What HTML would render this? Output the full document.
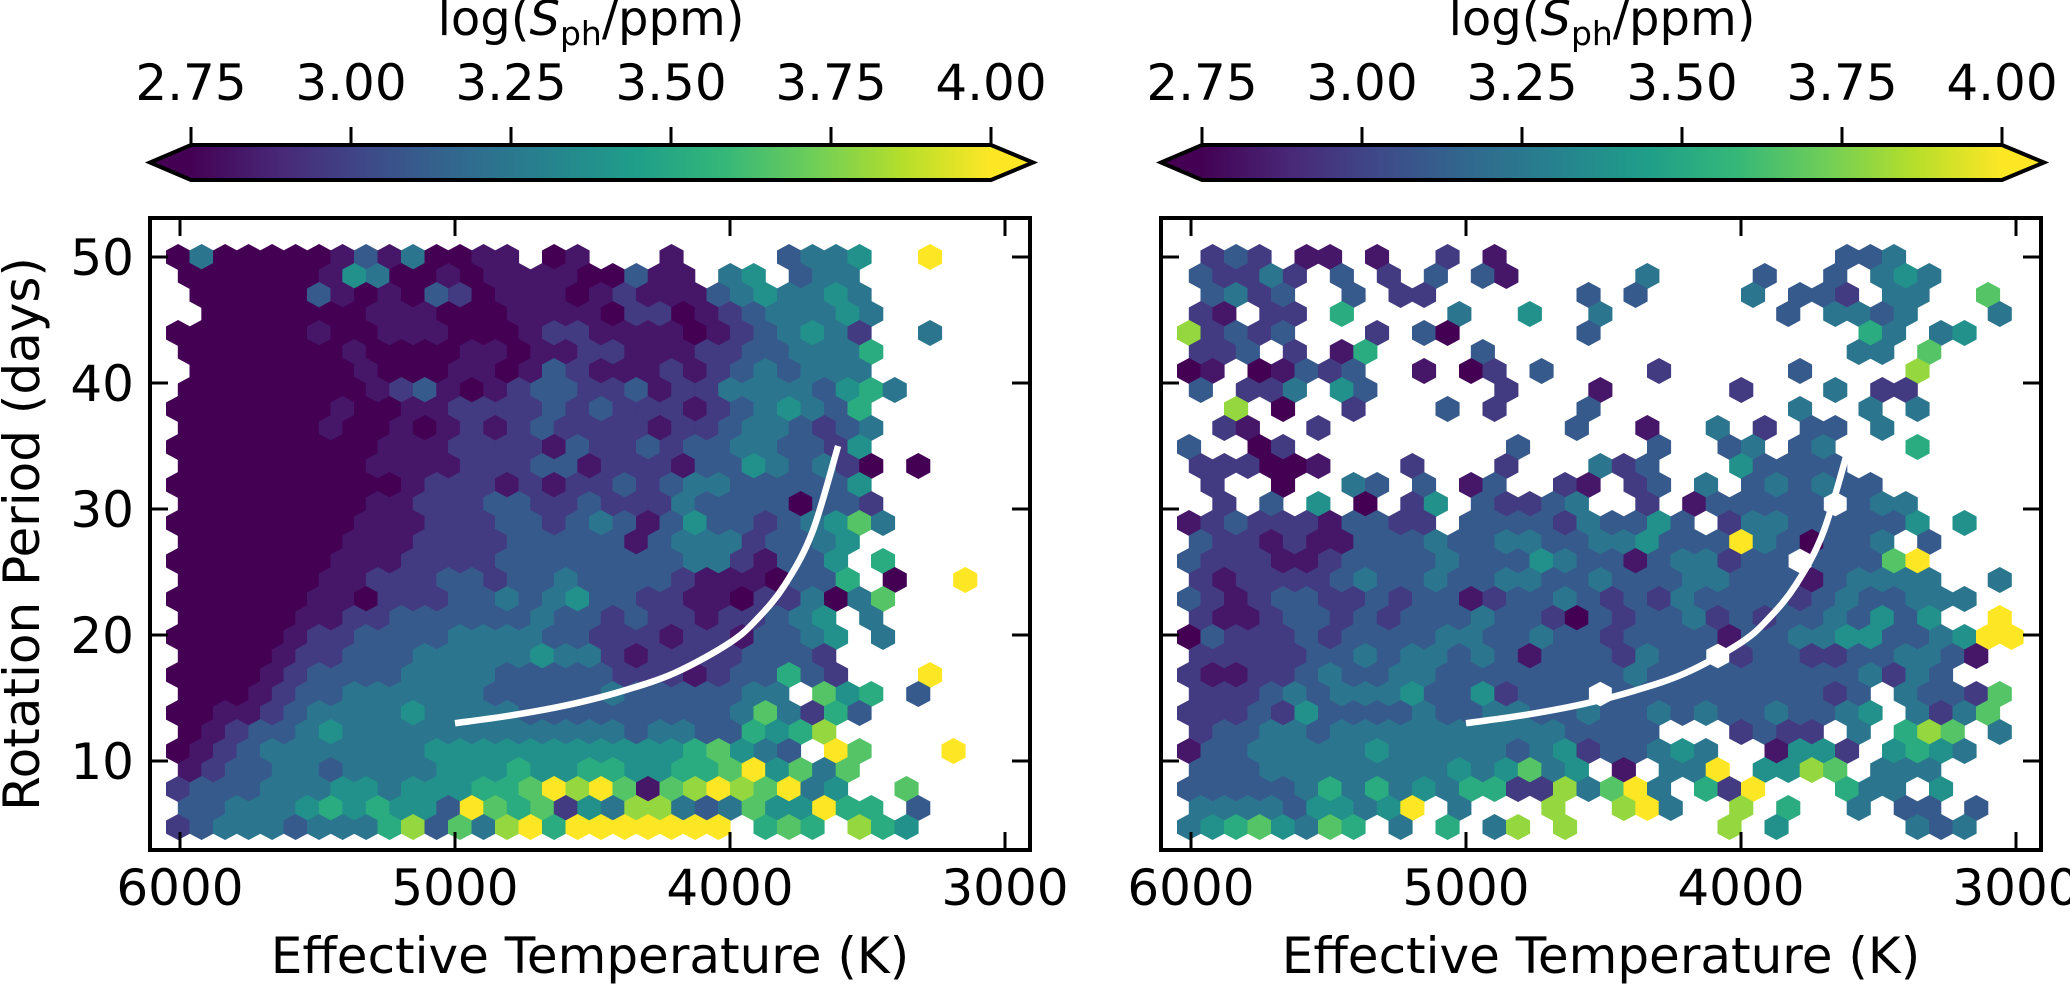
<!DOCTYPE html>
<html><head><meta charset="utf-8"><style>
html,body{margin:0;padding:0;background:#fff;}
svg{display:block;font-family:"DejaVu Sans","Liberation Sans",sans-serif;}
</style></head><body>
<svg id="fig" width="2070" height="985" viewBox="0 0 2070 985" xmlns="http://www.w3.org/2000/svg">
<defs>
<linearGradient id="vir" x1="0" x2="1" y1="0" y2="0">
<stop offset="0" stop-color="#440154"/><stop offset="0.111" stop-color="#482878"/><stop offset="0.222" stop-color="#3e4a89"/><stop offset="0.333" stop-color="#31688e"/><stop offset="0.444" stop-color="#26828e"/><stop offset="0.556" stop-color="#1f9e89"/><stop offset="0.667" stop-color="#35b779"/><stop offset="0.778" stop-color="#6ece58"/><stop offset="0.889" stop-color="#b5de2b"/><stop offset="1" stop-color="#fde725"/>
</linearGradient>
</defs>
<g id="layer"></g>
</svg>
<script>
// ---- data ----
const colorbarTicks = [2.75, 3.00, 3.25, 3.50, 3.75, 4.00];
const colorbarTickLabels = ["2.75","3.00","3.25","3.50","3.75","4.00"];
const xTicks = [6000, 5000, 4000, 3000];
const xTickLabels = ["6000","5000","4000","3000"];
const yTicks = [50, 40, 30, 20, 10];
const yTickLabels = ["50","40","30","20","10"];
const gridT0 = 6007, gridDT = 85.45, gridP0 = 50.0, gridDP = 1.508;
const levelMin = 2.75, levelStep = 1.25/9, levelShift = 0.45;
const curveT = [5000, 4800, 4600, 4400, 4200, 4000, 3900, 3800, 3700, 3607];
const curveP = [13.0, 13.6, 14.4, 15.5, 17.0, 19.4, 21.3, 24.0, 28.2, 35.0];
const leftRows = [
"0400000131"+"40011.01.."+".1....3445"+"..9...",
"0000001540"+"0101111003"+"11.45.344."+"......",
".000003101"+"0320111012"+"1113454454"+"......",
".000000011"+"1000111102"+"2012344454"+"......",
"0000001001"+"1100012211"+"1101234542"+"..4...",
"0000000100"+"0011011221"+"1122334446"+"......",
".000000010"+"0011013211"+"1212343444"+"......",
"0000000012"+"3101233223"+"1224444356"+"4.....",
"0000000100"+"1122223232"+"2212345436"+"......",
"0000001001"+"0121232222"+"1223443234"+"......",
"0000000001"+"1122221322"+"3233443325"+"......",
"0000000011"+"1122233122"+"2133543420"+".0....",
"0000000000"+"1222121223"+"2344333335"+"......",
"0000000011"+"2223322322"+"2433330332"+"......",
"0000000011"+"1222332343"+"1353323457"+"4.....",
"0000000111"+"2222333331"+"344423345."+"......",
"0000000111"+"2222333333"+"334421335."+"6.....",
"0000001122"+"2332334333"+"321110336."+"0..9..",
"0000001102"+"2233434533"+"2211022404"+"7.....",
"0000011223"+"3333343323"+"22122345.4"+"......",
"0000012233"+"3344443322"+"212213345."+"4.....",
"0000122333"+"4444454421"+"22223332.."+"......",
"0000123333"+"4444333332"+"221233632."+"..9...",
"0001233444"+"4443333343"+"333344.756"+".3....",
"0011234444"+"5444433333"+"3333474263"+"......",
"0123345444"+"4444444443"+"44336568.."+"......",
"0123444444"+"4555555555"+"5567543.97"+"...9..",
"1233443444"+"4555655665"+"566795747."+"......",
"2333444554"+"5556679897"+"178987945."+".7....",
"3344456565"+"5397672548"+"8434755966"+".3....",
"2344434446"+"8374896999"+"9999.676.8"+"65...."
];
const rightRows = [
".232.11.1."+".2.1......"+"........33"+"4.....",
"32242.3.2."+"3.31.....4"+"....3..3.4"+"54....",
".3423..3.2"+"2......3.3"+"....4.332."+"44..7.",
"21.22.6..."+".4..5..4.."+".....3.443"+"4...4.",
"82323...2."+"30.....3.."+".........6"+"4.45..",
"223.2.16.."+"..3......."+"........44"+".7....",
"01.01323.."+"1.02.3...."+"2.....3..."+".8....",
"3.224.53.."+"...2...1.."+"...2...4.2"+"2.....",
"..8.0..2.."+".3.2...3.."+"......4..4"+".4....",
".21..2...."+"......3..1"+"..4.2.33.4"+"......",
"3..02....."+"....3....."+"3..34.34.."+".6....",
"222001...2"+"...2...423"+"...53333.."+"......",
".2..0..43."+"3.13..21.2"+"3.4.343433"+"......",
".2.3.5.0.2"+"5.32234..2"+".133333.34"+"4.....",
"1232221332"+"2.33332433"+"53.2443333"+"35.5..",
"3221211333"+"4334433445"+"3339430334"+".3....",
"3222112333"+"3433354331"+"344233.333"+"79....",
"2122223433"+"4334433433"+"3443331344"+"44..4.",
"3212332232"+"3312334323"+"2433332343"+"3444..",
"2112332323"+"3343320323"+"3423233435"+"35..9.",
"0322232333"+"3443343323"+"3331334455"+"334599",
"2222233434"+"4343133324"+"33.2332233"+"4431..",
"2112234334"+"4333333334"+"3333333334"+"243...",
"2223434445"+"3352333.33"+"333333323."+"43327.",
"2223253333"+"4334433433"+"4343343345"+".4247.",
"2334434444"+"4444443333"+"...2322.4."+"687.4.",
"1334444454"+"4444345233"+"454..1552."+"5654..",
"3334444444"+"4545745.1."+"449.5587.4"+"44....",
"3333346464"+"5466228479"+"4.629...64"+"4.5...",
"4444355459"+".4...8..89"+"4..8.6..4."+"33.3..",
"45675476.4"+".6.48.8..."+"...8.5...."+".434.."
];
// ---- layout ----
const NS = "http://www.w3.org/2000/svg";
const layer = document.getElementById('layer');
const panels = [{off:0, rows:leftRows, name:'left'}, {off:1011, rows:rightRows, name:'right'}];
const AX = {l:150, r:1030, t:218, b:850};
function xPix(T, off){ return 180 + (6000 - T) * 0.275 + off; }
function yPix(P){ return 257 + (50 - P) * 12.6; }
function cbX(v, off){ return 191 + off + (v - 2.75) / 1.25 * 800; }
const vir = ["#440154","#482878","#3e4a89","#31688e","#26828e","#1f9e89","#35b779","#6ece58","#b5de2b","#fde725"];
function hexToRgb(h){ return [parseInt(h.substr(1,2),16), parseInt(h.substr(3,2),16), parseInt(h.substr(5,2),16)]; }
function viridis(v){
  let t = (v - 2.75) / 1.25; t = Math.max(0, Math.min(1, t));
  const f = t * 9, i = Math.min(8, Math.floor(f)), u = f - i;
  const a = hexToRgb(vir[i]), b = hexToRgb(vir[i+1]);
  return 'rgb(' + a.map((c,k)=>Math.round(c + (b[k]-c)*u)).join(',') + ')';
}
function levelValue(d){
  if (d === 0) return levelMin;
  if (d === 9) return levelMin + 9 * levelStep;
  return levelMin + (d - levelShift) * levelStep;
}
function mk(tag, attrs, parent){
  const e = document.createElementNS(NS, tag);
  for (const k in attrs) e.setAttribute(k, attrs[k]);
  (parent || layer).appendChild(e);
  return e;
}
function txt(s, attrs, parent){ const e = mk('text', attrs, parent); e.textContent = s; return e; }
function smoothPath(pts){
  let d = 'M ' + pts[0][0].toFixed(1) + ' ' + pts[0][1].toFixed(1);
  for (let k = 0; k < pts.length - 1; k++) {
    const p0 = pts[Math.max(0, k-1)], p1 = pts[k], p2 = pts[k+1], p3 = pts[Math.min(pts.length-1, k+2)];
    const c1 = [p1[0] + (p2[0]-p0[0])/6, p1[1] + (p2[1]-p0[1])/6];
    const c2 = [p2[0] - (p3[0]-p1[0])/6, p2[1] - (p3[1]-p1[1])/6];
    d += ' C ' + c1.map(v=>v.toFixed(1)).join(' ') + ' ' + c2.map(v=>v.toFixed(1)).join(' ') + ' ' + p2[0].toFixed(1) + ' ' + p2[1].toFixed(1);
  }
  return d;
}

panels.forEach(p => {
  const off = p.off;
  const g = mk('g', {});
  
  
  const hg = mk('g', {}, g);
  
  
  const hw = 23.5/2, ht = 38/3;
  p.rows.forEach((row, j) => {
    for (let i = 0; i < row.length; i++) {
      const ch = row[i];
      if (ch === '.') continue;
      const d = parseInt(ch, 10);
      const val = levelValue(d);
      const T = gridT0 - (i + (j % 2 ? 0.5 : 0)) * gridDT;
      const P = gridP0 - j * gridDP;
      const cx = xPix(T, off), cy = yPix(P);
      const pts = [[cx+hw, cy-ht/2],[cx+hw, cy+ht/2],[cx, cy+ht],[cx-hw, cy+ht/2],[cx-hw, cy-ht/2],[cx, cy-ht]].map(q=>q[0].toFixed(1)+','+q[1].toFixed(1)).join(' ');
      const col = viridis(val);
      const h = mk('polygon', {points: pts, fill: col, stroke: col, 'stroke-width': 0.6}, hg);
      
      
    }
  });
  const cpts = curveT.map((T, k) => [xPix(T, off), yPix(curveP[k])]);
  const cv = mk('path', {d: smoothPath(cpts), fill: 'none', stroke: '#fff', 'stroke-width': 6.5, 'stroke-linejoin': 'round'}, g);
  
  
  const fr = mk('rect', {x: AX.l + off, y: AX.t, width: AX.r - AX.l, height: AX.b - AX.t, fill: 'none', stroke: '#000', 'stroke-width': 4}, g);
  
  
  xTicks.forEach((T, k) => {
    const x = xPix(T, off);
    const t1 = mk('line', {x1: x, x2: x, y1: AX.b, y2: AX.b - 18, stroke: '#000', 'stroke-width': 3}, g);
    
    
    const t2 = mk('line', {x1: x, x2: x, y1: AX.t, y2: AX.t + 18, stroke: '#000', 'stroke-width': 3}, g);
    
    
    const lb = txt(xTickLabels[k], {x: x, y: 905, 'font-size': 50, 'text-anchor': 'middle'}, g);
    
    
  });
  yTicks.forEach((P, k) => {
    const y = yPix(P);
    const t1 = mk('line', {x1: AX.l + off, x2: AX.l + off + 18, y1: y, y2: y, stroke: '#000', 'stroke-width': 3}, g);
    
    
    const t2 = mk('line', {x1: AX.r + off, x2: AX.r + off - 18, y1: y, y2: y, stroke: '#000', 'stroke-width': 3}, g);
    
    
    if (off === 0) {
      const lb = txt(yTickLabels[k], {x: 134, y: y + 18, 'font-size': 50, 'text-anchor': 'end'}, g);
      
      
    }
  });
  const xl = txt('Effective Temperature (K)', {x: 590 + off, y: 973, 'font-size': 50, 'text-anchor': 'middle'}, g);
  
  
  const cb = mk('g', {}, g);
  
  
  const x0 = cbX(2.75, off), x1 = cbX(4.0, off);
  const body = mk('rect', {x: x0, y: 145, width: x1 - x0, height: 35, fill: 'url(#vir)'}, cb);
  
  
  const lt = mk('polygon', {points: `${x0},145 ${x0-41},162.5 ${x0},180`, fill: '#440154'}, cb);
  
  
  const rt = mk('polygon', {points: `${x1},145 ${x1+42},162.5 ${x1},180`, fill: '#fde725'}, cb);
  
  
  const ol = mk('polygon', {points: `${x0},145 ${x1},145 ${x1+42},162.5 ${x1},180 ${x0},180 ${x0-41},162.5`, fill: 'none', stroke: '#000', 'stroke-width': 4}, cb);
  
  
  colorbarTicks.forEach((v, k) => {
    const x = cbX(v, off);
    const tk = mk('line', {x1: x, x2: x, y1: 127, y2: 145, stroke: '#000', 'stroke-width': 3}, cb);
    
    
    const lb = txt(colorbarTickLabels[k], {x: x, y: 100, 'font-size': 50, 'text-anchor': 'middle'}, cb);
    
    
  });
  const ttl = mk('text', {x: 591 + off, y: 35, 'font-size': 48, 'text-anchor': 'middle'}, cb);
  
  
  ttl.innerHTML = 'log(<tspan font-style="italic">S</tspan><tspan font-size="33" dy="10">ph</tspan><tspan dy="-10">/ppm)</tspan>';
});
const yl = txt('Rotation Period (days)', {x: 0, y: 0, 'font-size': 50, 'text-anchor': 'middle', transform: 'translate(39,534) rotate(-90)'});


</script>
</body></html>
